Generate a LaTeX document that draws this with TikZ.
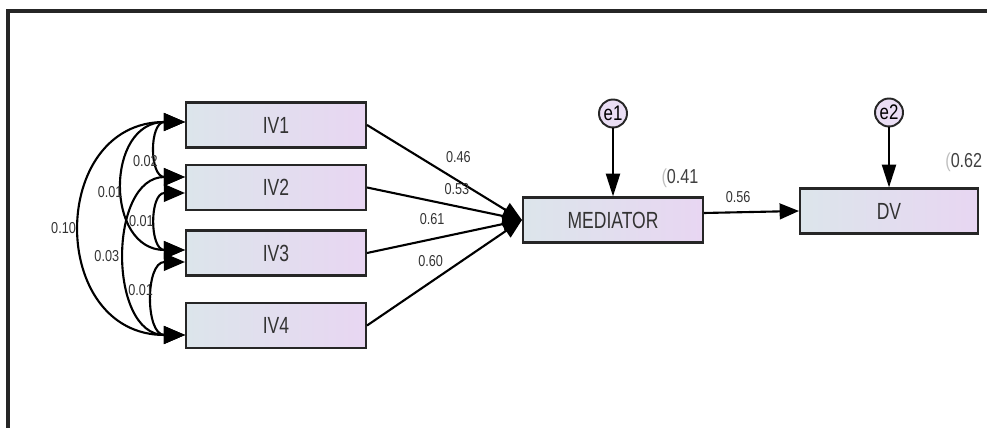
\documentclass[tikz,border=0pt]{standalone}
\usepackage{fontspec}
\newfontfamily\amosfont[FakeStretch=0.8]{Liberation Sans}
\newfontfamily\boxfont[FakeStretch=0.75]{Liberation Sans}
\usetikzlibrary{arrows.meta,positioning}
\definecolor{myblue}{RGB}{220,229,235}
\definecolor{mypurple}{RGB}{232,214,242}
\definecolor{mylilac}{RGB}{234,222,244}

\begin{document}
\begin{tikzpicture}[x=0.02cm,y=-0.02cm,font=\amosfont,
  obs/.style={draw=black!85,line width=1.2pt,rectangle,minimum width=3.6cm,minimum height=0.9cm,
    left color=myblue,right color=mypurple,text=black!80,font=\boxfont\fontsize{13.3}{15}\selectfont},
  err/.style={draw=black!85,line width=1.1pt,circle,inner sep=0pt,minimum size=0.56cm,
    fill=mylilac,font=\amosfont\fontsize{12}{13}\selectfont},
  reg/.style={line width=1.2pt,-{Triangle[length=11pt,width=9pt]}},
  cov/.style={line width=1.2pt,{Triangle[length=12pt,width=10pt]}-{Triangle[length=12pt,width=10pt]}},
  est/.style={font=\amosfont\fontsize{9}{10}\selectfont,text=black!80,inner sep=1pt},
  rsq/.style={font=\amosfont\fontsize{11.5}{13}\selectfont,text=black!75,inner sep=1pt}]

  \useasboundingbox (0,0) rectangle (987,428);
  \draw[line width=1.8pt,black!85] (8,428) |- (987,11);

  \node[obs] (iv1) at (276,125) {IV1};
  \node[obs] (iv2) at (276,187.5) {IV2};
  \node[obs] (iv3) at (276,253) {IV3};
  \node[obs] (iv4) at (276,325.5) {IV4};

  \node[obs] (med) at (613,220) {MEDIATOR};
  \node[obs,minimum width=3.56cm] (dv) at (889,211) {DV};

  \node[err,above=1.36cm of med] (e1) {e1};
  \node[err,above=1.2cm of dv] (e2) {e2};

  % paths into the mediator
  \draw[reg] (iv1.east) -- node[est,pos=.59,yshift=0.48cm] {0.46} (med.west);
  \draw[reg] (iv2.east) -- node[est,pos=.58,yshift=0.35cm] {0.53} (med.west);
  \draw[reg] (iv3.east) -- node[est,pos=.42,yshift=0.4cm] {0.61} (med.west);
  \draw[reg] (iv4.east) -- node[est,pos=.41,yshift=0.42cm] {0.60} (med.west);
  \draw[reg] ([yshift=0.14cm]med.east) -- node[est,pos=.36,yshift=0.3cm] {0.56} (dv.west);

  \draw[reg,-{Triangle[length=13pt,width=8pt]}] (e1) -- (med.north);
  \draw[reg,-{Triangle[length=13pt,width=8pt]}] (e2) -- (dv.north);

  \node[rsq,anchor=south east] (r1) at ([xshift=-2pt,yshift=4pt]med.north east) {{\color{black!25}(}0.41};
  \node[rsq,anchor=south east] (r2) at ([xshift=3pt,yshift=8pt]dv.north east) {{\color{black!25}(}0.62};

  % covariances between the predictors
  \draw[cov] ([yshift=0.06cm]iv1.west) to[out=180,in=180,looseness=1.67]
    node[est,left,pos=.65] {0.02} ([yshift=0.21cm]iv2.west);
  \draw[cov] ([yshift=0.06cm]iv1.west) to[out=180,in=180,looseness=1.6]
    node[est,left,pos=.53] {0.01} ([yshift=0.06cm]iv3.west);
  \draw[cov] ([yshift=0.06cm]iv1.west) to[out=180,in=180,looseness=1.65]
    node[est,left=2pt,pos=.5] {0.10} ([yshift=-0.19cm]iv4.west);
  \draw[cov] ([yshift=-0.11cm]iv2.west) to[out=180,in=180,looseness=1.6]
    node[est,left=1pt,pos=.5] {0.01} ([yshift=0.06cm]iv3.west);
  \draw[cov] ([yshift=0.21cm]iv2.west) to[out=180,in=180,looseness=1.25]
    node[est,left=3pt,pos=.5] {0.03} ([yshift=-0.19cm]iv4.west);
  \draw[cov] ([yshift=-0.18cm]iv3.west) to[out=180,in=180,looseness=1.4]
    node[est,left,pos=.42] {0.01} ([yshift=-0.19cm]iv4.west);

\end{tikzpicture}
\end{document}
